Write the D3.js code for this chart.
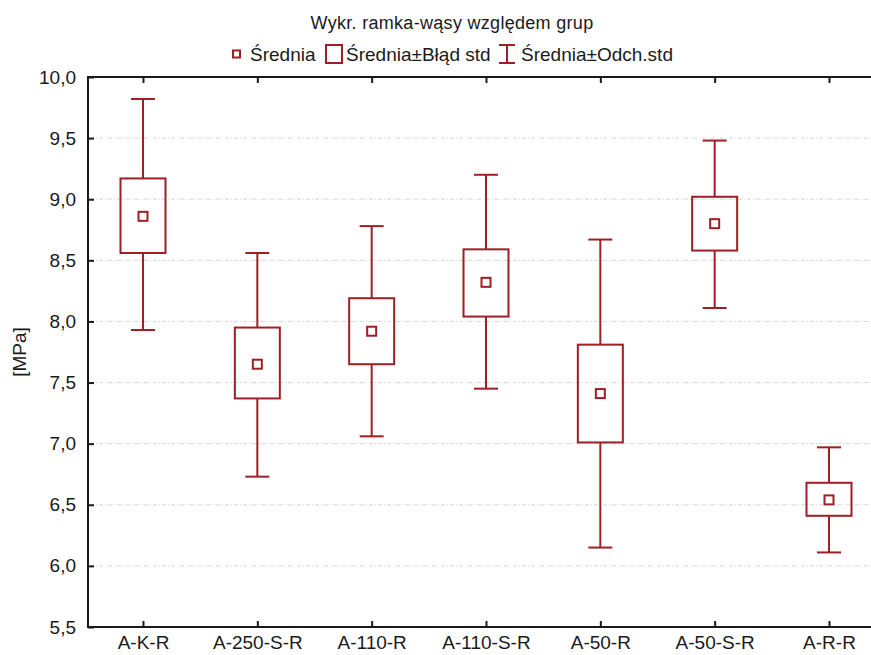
<!DOCTYPE html>
<html>
<head>
<meta charset="utf-8">
<script src="https://cdnjs.cloudflare.com/ajax/libs/d3/7.8.5/d3.min.js"></script>
<style>
	body { margin: 0; background: #fff; }
	svg { display: block; font-family: "Liberation Sans", Arial, sans-serif; }
	.grid line { stroke: #d6d6d6; stroke-width: 1; stroke-dasharray: 4,2,1,2; }
	.axis text { font-size: 19px; fill: #1a1a1a; }
	.axis line { stroke: #1a1a1a; stroke-width: 2; }
</style>
</head>
<body>
<script>
(function () {
	"use strict";

	// values
	var categories = ["A-K-R", "A-250-S-R", "A-110-R", "A-110-S-R", "A-50-R", "A-50-S-R", "A-R-R"];
	var means       = [8.86, 7.65, 7.92, 8.32, 7.41, 8.80, 6.54];
	var seLow       = [8.56, 7.37, 7.65, 8.04, 7.01, 8.58, 6.41];
	var seHigh      = [9.17, 7.95, 8.19, 8.59, 7.81, 9.02, 6.68];
	var sdLow       = [7.93, 6.73, 7.06, 7.45, 6.15, 8.11, 6.11];
	var sdHigh      = [9.82, 8.56, 8.78, 9.20, 8.67, 9.48, 6.97];
	var yTicks      = [5.5, 6.0, 6.5, 7.0, 7.5, 8.0, 8.5, 9.0, 9.5, 10.0];
	var legendItems = ["Średnia", "Średnia±Błąd std", "Średnia±Odch.std"];

	var color = "#9e1f24",
		width = 871,
		height = 655,
		left = 88,
		top = 77,
		bottom = 627,
		rightEdge = 900;

	var svg = d3.select("body").append("svg")
		.attr("width", width)
		.attr("height", height);

	var x = d3.scalePoint()
		.domain(categories)
		.range([143, 829]);

	var y = d3.scaleLinear()
		.domain([5.5, 10])
		.range([bottom, top]);

	var locale = d3.formatLocale({ decimal: ",", thousands: " ", grouping: [3], currency: ["", ""] });
	var fmt = locale.format(".1f");

	// grid lines
	svg.append("g")
		.attr("class", "grid")
		.selectAll("line")
		.data(yTicks.filter(function (d) { return d > 5.5 && d < 10; }))
		.enter().append("line")
		.attr("x1", left + 2)
		.attr("x2", rightEdge)
		.attr("y1", function (d) { return y(d); })
		.attr("y2", function (d) { return y(d); });

	// axes
	var yAxis = svg.append("g")
		.attr("class", "axis")
		.attr("transform", "translate(" + left + ",0)")
		.call(d3.axisLeft(y).tickValues(yTicks).tickFormat(fmt).tickSize(-6).tickPadding(12));
	yAxis.select(".domain").remove();

	var xAxis = svg.append("g")
		.attr("class", "axis")
		.attr("transform", "translate(0," + bottom + ")")
		.call(d3.axisBottom(x).tickSize(-6).tickPadding(9));
	xAxis.select(".domain").remove();

	var xTop = svg.append("g")
		.attr("class", "axis")
		.attr("transform", "translate(0," + top + ")")
		.call(d3.axisTop(x).tickSize(-6).tickFormat(""));
	xTop.select(".domain").remove();

	// frame
	svg.append("path")
		.attr("d", "M" + rightEdge + "," + top + "H" + left + "V" + bottom + "H" + rightEdge)
		.attr("fill", "none")
		.attr("stroke", "#1a1a1a")
		.attr("stroke-width", 2);

	// boxes and whiskers
	var boxW = 45, capW = 24, markW = 9;
	var groups = svg.append("g").selectAll("g")
		.data(categories)
		.enter().append("g")
		.attr("stroke", color)
		.attr("stroke-width", 2)
		.attr("fill", "none");

	groups.append("line")
		.attr("x1", function (d) { return x(d); })
		.attr("x2", function (d) { return x(d); })
		.attr("y1", function (d, i) { return y(sdHigh[i]); })
		.attr("y2", function (d, i) { return y(seHigh[i]); });
	groups.append("line")
		.attr("x1", function (d) { return x(d); })
		.attr("x2", function (d) { return x(d); })
		.attr("y1", function (d, i) { return y(seLow[i]); })
		.attr("y2", function (d, i) { return y(sdLow[i]); });
	groups.append("line")
		.attr("x1", function (d) { return x(d) - capW / 2; })
		.attr("x2", function (d) { return x(d) + capW / 2; })
		.attr("y1", function (d, i) { return y(sdHigh[i]); })
		.attr("y2", function (d, i) { return y(sdHigh[i]); });
	groups.append("line")
		.attr("x1", function (d) { return x(d) - capW / 2; })
		.attr("x2", function (d) { return x(d) + capW / 2; })
		.attr("y1", function (d, i) { return y(sdLow[i]); })
		.attr("y2", function (d, i) { return y(sdLow[i]); });
	groups.append("rect")
		.attr("x", function (d) { return x(d) - boxW / 2; })
		.attr("width", boxW)
		.attr("y", function (d, i) { return y(seHigh[i]); })
		.attr("height", function (d, i) { return y(seLow[i]) - y(seHigh[i]); });
	groups.append("rect")
		.attr("x", function (d) { return x(d) - markW / 2; })
		.attr("width", markW)
		.attr("y", function (d, i) { return y(means[i]) - markW / 2; })
		.attr("height", markW);

	// y label
	svg.append("text")
		.attr("transform", "translate(26," + ((top + bottom) / 2) + ") rotate(-90)")
		.attr("text-anchor", "middle")
		.style("font-size", "19px")
		.attr("fill", "#1a1a1a")
		.text("[MPa]");

	// title
	svg.append("text")
		.attr("x", 452)
		.attr("y", 29)
		.attr("text-anchor", "middle")
		.style("font-size", "18px")
		.style("letter-spacing", "0.3px")
		.attr("fill", "#1a1a1a")
		.text("Wykr. ramka-wąsy względem grup");

	// legend
	var leg = svg.append("g").style("font-size", "19px");
	var ly = 54;
	leg.append("rect").attr("x", 233).attr("y", ly - 3.5).attr("width", 7).attr("height", 7)
		.attr("fill", "none").attr("stroke", color).attr("stroke-width", 2);
	leg.append("text").attr("x", 250).attr("y", ly + 7).attr("fill", "#1a1a1a").text(legendItems[0]);
	leg.append("rect").attr("x", 326).attr("y", ly - 9).attr("width", 16).attr("height", 18)
		.attr("fill", "none").attr("stroke", color).attr("stroke-width", 2);
	leg.append("text").attr("x", 346).attr("y", ly + 7).attr("fill", "#1a1a1a").text(legendItems[1]);
	leg.append("path").attr("d", "M499," + (ly - 9) + "H515M507," + (ly - 9) + "V" + (ly + 9) + "M499," + (ly + 9) + "H515")
		.attr("fill", "none").attr("stroke", color).attr("stroke-width", 2);
	leg.append("text").attr("x", 521).attr("y", ly + 7).attr("fill", "#1a1a1a").text(legendItems[2]);
})();
</script>
</body>
</html>
